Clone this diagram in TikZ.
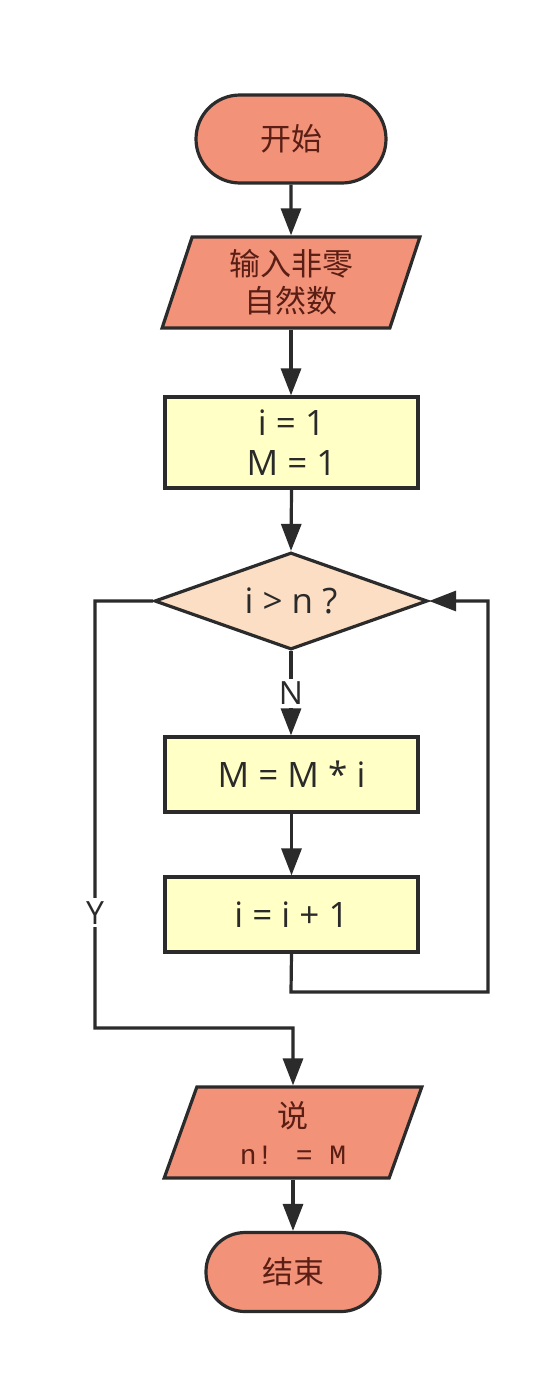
\documentclass[tikz,border=0pt]{standalone}
\usepackage{fontspec}
\setmainfont{Open Sans}
\newfontfamily\cjk{Noto Sans CJK SC}
\newfontfamily\monof{Liberation Mono}
\usetikzlibrary{shapes.geometric,arrows.meta}
\definecolor{salmon}{HTML}{F29279}
\definecolor{paleyel}{HTML}{FFFFC6}
\definecolor{peach}{HTML}{FBDEC4}
\definecolor{edge}{HTML}{2B2B2B}
\definecolor{cjktext}{HTML}{5A1E14}
\definecolor{bodytext}{HTML}{2A2A2A}
\tikzset{
  box/.style={draw=edge, line width=3.2pt, fill=paleyel, minimum width=253pt, inner sep=0pt,
    align=center, text=bodytext, font=\fontsize{35}{40}\selectfont},
  term/.style={draw=edge, line width=3.2pt, fill=salmon, inner sep=0pt,
    text=cjktext, font=\cjk\fontsize{31}{36}\selectfont},
  io/.style={draw=edge, line width=3.2pt, fill=salmon, trapezium, trapezium left angle=74,
    trapezium right angle=106, trapezium stretches=true, minimum width=258pt, minimum height=91pt,
    inner sep=0pt, align=center, text=cjktext, font=\cjk\fontsize{31}{37}\selectfont},
  dec/.style={draw=edge, line width=3.2pt, fill=peach, diamond, minimum width=273pt, minimum height=97pt,
    inner sep=0pt},
  dectext/.style={inner sep=0pt, text=bodytext, font=\fontsize{35}{36}\selectfont},
  conn/.style={draw=edge, line width=3.2pt},
  arr/.style={conn, -{Triangle[length=27pt,width=20pt]}},
  lab/.style={fill=white, inner sep=3pt, text=bodytext, font=\fontsize{32}{34}\selectfont},
}
\begin{document}
\begin{tikzpicture}[x=1pt,y=-1pt]
\useasboundingbox (0,0) rectangle (550,1376);
\fill[white] (0,0) rectangle (550,1376);

\node[term, minimum width=190pt, minimum height=88pt, rounded corners=44pt] (start) at (291,139) {开始};
\node[io] (in) at (291,282.5) {输入非零\\自然数};
\node[box, minimum height=91pt] (init) at (291.5,442.5) {i = 1\\M = 1};
\node[dec, label={[dectext]center:i > n ?}] (cond) at (291,601) {};
\node[box, minimum height=75pt] (mul) at (291.5,774.5) {M = M * i};
\node[box, minimum height=75pt] (inc) at (291.5,914.5) {i = i + 1};
\node[io] (out) at (293,1132.5) {说\\{\monof\fontsize{28}{34}\selectfont n! = M}};
\node[term, minimum width=174pt, minimum height=79pt, rounded corners=39pt] (stop) at (293,1272) {结束};

\coordinate (loopA) at (291,992);
\coordinate (loopB) at (488,992);
\coordinate (loopC) at (488,601);
\coordinate (yA) at (95,601);
\coordinate (yB) at (95,1028);
\coordinate (yC) at (293,1028);

\draw[arr] (start.south) -- (in.north);
\draw[arr] (in.south) -- (in.south |- init.north);
\draw[arr] (init.south) -- (cond.north);
\draw[arr] (cond.south) -- node[lab, pos=0.5] (nlab) {N} (cond.south |- mul.north);
\draw[arr] (mul.south) -- (inc.north);
\draw[arr] (inc.south) -- (loopA) -- (loopB) -- (loopC) -- (cond.east);
\draw[arr] (cond.west) -- (yA) -- node[lab, pos=0.73] (ylab) {Y} (yB) -- (yC) -- (out.north);
\draw[arr] (out.south) -- (out.south |- stop.north);
\end{tikzpicture}
\end{document}
